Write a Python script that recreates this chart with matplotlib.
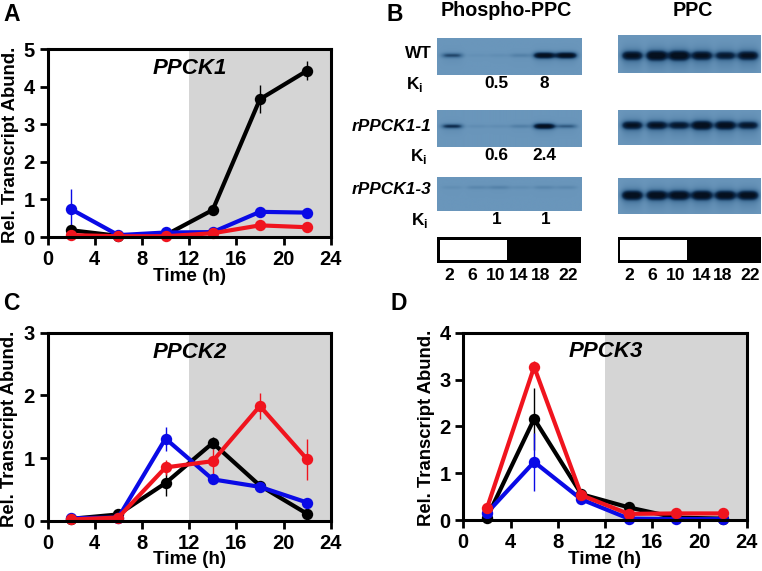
import numpy as np
import matplotlib
matplotlib.use("Agg")
import matplotlib.pyplot as plt
from matplotlib.colors import LinearSegmentedColormap
from matplotlib.patches import Rectangle

plt.rcParams['font.family'] = ['Liberation Sans', 'DejaVu Sans']
plt.rcParams['font.weight'] = 'bold'
plt.rcParams['mathtext.fontset'] = 'custom'
plt.rcParams['mathtext.bf'] = 'Liberation Sans:bold'
plt.rcParams['mathtext.rm'] = 'Liberation Sans:bold'

times = [2, 6, 10, 14, 18, 22]
xticks = [0, 4, 8, 12, 16, 20, 24]

a_black = [0.18, 0.03, 0.05, 0.72, 3.67, 4.43]
a_black_err = [0.10, 0.02, 0.02, 0.06, 0.38, 0.26]
a_blue = [0.74, 0.05, 0.12, 0.13, 0.67, 0.65]
a_blue_err = [0.53, 0.02, 0.03, 0.03, 0.05, 0.04]
a_red = [0.05, 0.02, 0.02, 0.10, 0.31, 0.26]
a_red_err = [0.03, 0.01, 0.01, 0.02, 0.03, 0.03]

c_black = [0.03, 0.10, 0.60, 1.24, 0.56, 0.11]
c_black_err = [0.01, 0.02, 0.20, 0.10, 0.03, 0.02]
c_blue = [0.04, 0.05, 1.31, 0.66, 0.54, 0.29]
c_blue_err = [0.01, 0.01, 0.19, 0.04, 0.04, 0.03]
c_red = [0.02, 0.05, 0.85, 0.95, 1.83, 0.98]
c_red_err = [0.01, 0.01, 0.12, 0.20, 0.20, 0.33]

d_black = [0.05, 2.16, 0.55, 0.27, 0.05, 0.03]
d_black_err = [0.02, 0.66, 0.03, 0.10, 0.02, 0.01]
d_blue = [0.15, 1.24, 0.44, 0.03, 0.02, 0.02]
d_blue_err = [0.03, 0.62, 0.03, 0.01, 0.01, 0.01]
d_red = [0.25, 3.27, 0.53, 0.13, 0.14, 0.14]
d_red_err = [0.03, 0.13, 0.03, 0.02, 0.02, 0.02]

# blot band strengths per lane
phos_wt = [0.5, 0.05, 0.07, 0.18, 1.0, 1.0]
phos_r1 = [0.62, 0.08, 0.08, 0.2, 1.0, 0.42]
phos_r3 = [0.07, 0.13, 0.17, 0.08, 0.14, 0.12]
ppc_wt = [0.82, 0.95, 0.95, 0.82, 0.7, 0.82]
ppc_r1 = [0.82, 0.82, 0.75, 0.95, 0.9, 0.75]
ppc_r3 = [0.95, 0.95, 0.95, 0.95, 0.92, 0.92]
lane_labels = ['2', '6', '10', '14', '18', '22']
ki_wt = ['0.5', '8']
ki_r1 = ['0.6', '2.4']
ki_r3 = ['1', '1']

W, H = 762, 571
fig = plt.figure(figsize=(W / 100, H / 100), dpi=100, facecolor='white')


def panel(x0, x1, ytop, ybot, ymax, title, series, order, ylab_off):
    ax = fig.add_axes([x0 / W, 1 - ybot / H, (x1 - x0) / W, (ybot - ytop) / H])
    ax.axvspan(12, 24, color='#d5d5d5', lw=0, zorder=0)
    for (vals, errs, col) in [series[k] for k in order]:
        ax.errorbar(times, vals, yerr=errs, color=col, lw=3.0, elinewidth=1.0,
                    marker='o', ms=8.2, mew=0, clip_on=False, zorder=3)
    ax.set_xlim(0, 24)
    ax.set_ylim(0, ymax)
    ax.set_xticks(xticks)
    ax.set_yticks(range(ymax + 1))
    ax.tick_params(width=2.0, length=5.8, labelsize=14.5, pad=3.5)
    for s in ax.spines.values():
        s.set_linewidth(2.2)
        s.set_zorder(5)
    h = ybot - ytop
    ax.set_xlabel('Time (h)', fontsize=13.6, fontweight='bold', va='center')
    ax.xaxis.set_label_coords(0.5, -39.0 / h)
    ax.set_ylabel('Rel. Transcript Abund.', fontsize=13.3, fontweight='bold', va='center')
    ax.yaxis.set_label_coords(-ylab_off / (x1 - x0), 0.49)
    ax.text(12.05, ymax * 0.897, title, style='italic', fontweight='bold', fontsize=16,
            ha='center', va='center', zorder=6)
    return ax


BLK, BLU, RED = '#000000', '#0a0ae6', '#f0141e'
panel(47.5, 330.7, 49.3, 237, 5, 'PPCK1',
      {'k': (a_black, a_black_err, BLK), 'b': (a_blue, a_blue_err, BLU), 'r': (a_red, a_red_err, RED)}, 'kbr', 36.5)
panel(47.5, 330.7, 332.7, 520.7, 3, 'PPCK2',
      {'k': (c_black, c_black_err, BLK), 'b': (c_blue, c_blue_err, BLU), 'r': (c_red, c_red_err, RED)}, 'kbr', 38.0)
panel(463.3, 746.7, 332.7, 520, 4, 'PPCK3',
      {'k': (d_black, d_black_err, BLK), 'b': (d_blue, d_blue_err, BLU), 'r': (d_red, d_red_err, RED)}, 'kbr', 37.0)

# overlay in pixel coordinates for the blots and labels
ov = fig.add_axes([0, 0, 1, 1], facecolor='none')
ov.set_xlim(0, W)
ov.set_ylim(H, 0)
ov.axis('off')
cmap = LinearSegmentedColormap.from_list('blot', ['#6a96bb', '#44729a', '#0c2a4c', '#05101f'])


def blot(x0, x1, y0, y1, lanes, strengths, band_y, sig, halo):
    xs = np.arange(x0, x1, 0.5)
    ys = np.arange(y0, y1, 0.5)
    X, Y = np.meshgrid(xs, ys)
    img = np.zeros_like(X)
    half = (x1 - x0) / 6 * 0.45
    for c, s in zip(lanes, strengths):
        lat = np.exp(-np.abs((X - c) / half) ** 4)
        img += s * lat * np.exp(-((Y - band_y) / (sig * (0.6 + 0.5 * s))) ** 2)
        img += s * halo * lat * np.exp(-((Y - band_y - 2) / (sig * 2.6)) ** 2)
    ov.imshow(np.clip(img, 0, 1), extent=[x0, x1, y1, y0], cmap=cmap, vmin=0, vmax=1,
              aspect='auto', interpolation='bilinear', zorder=1)


ph_lanes = [451.7, 476.7, 498.3, 520, 543.3, 565.3]
pc_lanes = [632.3, 656.7, 679, 701.7, 725, 747.7]
blot(436.7, 580.7, 39.3, 75.3, ph_lanes, phos_wt, 56, 2.8, 0.1)
blot(436.7, 580.7, 110.7, 147.3, ph_lanes, phos_r1, 126.7, 2.6, 0.1)
blot(436.7, 580.7, 178, 211.3, ph_lanes, phos_r3, 188, 2.6, 0.1)
blot(618.3, 760.7, 36, 73.3, pc_lanes, ppc_wt, 56, 4.2, 0.3)
blot(618.3, 760.7, 110.7, 145.3, pc_lanes, ppc_r1, 125.7, 4.0, 0.25)
blot(618.3, 760.7, 178, 214, pc_lanes, ppc_r3, 195, 4.2, 0.25)
ov.set_xlim(0, W)
ov.set_ylim(H, 0)

for x0, x1, wx0, wx1 in [(436.7, 580.7, 440, 507.3), (618.3, 760.7, 620, 687)]:
    ov.add_patch(Rectangle((x0, 236.7), x1 - x0, 26.6, fc='black', ec='none', zorder=2))
    ov.add_patch(Rectangle((wx0, 239.5), wx1 - wx0, 20, fc='white', ec='none', zorder=3))

LBL = 12.6
for c, lab in zip([449, 472, 495.5, 518.5, 541, 568], lane_labels):
    ov.text(c, 275.5, lab, fontsize=LBL, ha='center', va='center')
for c, lab in zip([629, 652, 676, 702, 723, 750], lane_labels):
    ov.text(c, 275.5, lab, fontsize=LBL, ha='center', va='center')

ov.text(506.3, 10, 'Phospho-PPC', fontsize=14.2, ha='center', va='center')
ov.text(692.5, 10, 'PPC', fontsize=14.2, ha='center', va='center')
ov.text(431.5, 53.5, 'WT', fontsize=12.4, ha='right', va='center')
ov.text(431.5, 126.5, 'rPPCK1-1', fontsize=12.4, style='italic', ha='right', va='center')
ov.text(431.5, 190, 'rPPCK1-3', fontsize=12.4, style='italic', ha='right', va='center')
for x, y in [(406.5, 84), (409.5, 157), (411, 221)]:
    ov.text(x, y, 'K$_{\\mathbf{i}}$', fontsize=12.4, ha='left', va='center')
for xs, y, labs in [((496.5, 544), 83, ki_wt), ((496.5, 544), 155, ki_r1), ((497, 546), 219.5, ki_r3)]:
    for x, lab in zip(xs, labs):
        ov.text(x, y, lab, fontsize=12.4, ha='center', va='center')

for x, y, lab in [(3, 14.5, 'A'), (386, 14.5, 'B'), (3, 304, 'C'), (391, 304, 'D')]:
    ov.text(x, y, lab, fontsize=16.5, ha='left', va='center')

fig.savefig('out.png', dpi=100)
